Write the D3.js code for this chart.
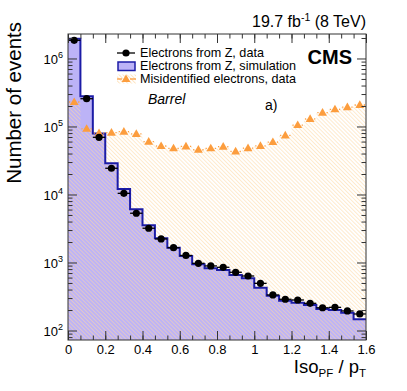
<!DOCTYPE html>
<html>
<head>
<meta charset="utf-8">
<script src="https://cdn.jsdelivr.net/npm/d3@7"></script>
<style>
  body { margin: 0; background: #fff; }
  svg { font-family: "Liberation Sans", Arial, sans-serif; }
</style>
</head>
<body>
<div id="chart"></div>
<script>
// Binning of Iso_PF / pT (24 bins from 0 to 1.6)
const nBins = 24, xMax = 1.6;
const binWidth = xMax / nBins;

// Electrons from Z, data (black points)
const zData = [1.85e6, 2.56e5, 6.93e4, 2.43e4, 1.04e4, 5300, 3190, 2220, 1650, 1270, 973, 890,
               850, 718, 633, 494, 333, 288, 281, 251, 216, 219, 194, 175];
// Electrons from Z, simulation (filled histogram)
const zSim = [1.95e6, 2.78e5, 7.9e4, 2.88e4, 1.2e4, 6050, 3520, 2270, 1650, 1250, 940, 822,
              777, 655, 586, 427, 325, 274, 256, 237, 207, 200, 183, 146];
// Misidentified electrons, data (orange triangles)
const fakeData = [2.29e5, 9.25e4, 8.0e4, 8.1e4, 8.4e4, 7.76e4, 5.97e4, 5.16e4, 4.78e4, 5.1e4, 4.55e4, 4.78e4,
                  5.05e4, 4.3e4, 4.8e4, 5.18e4, 5.9e4, 7.4e4, 1.05e5, 1.29e5, 1.6e5, 1.79e5, 1.92e5, 2.07e5];

const xTicks = [0, 0.2, 0.4, 0.6, 0.8, 1, 1.2, 1.4, 1.6];
const yTicks = [1e2, 1e3, 1e4, 1e5, 1e6];

const W = 407, H = 391;
const frame = { left: 68, right: 366, top: 34, bottom: 340 };

const purple = "#bcb3f7", blue = "#1c1ca6", orange = "#fc9d3e", hatchCol = "#fdd8a4";

const svg = d3.select("#chart").append("svg")
    .attr("width", W)
    .attr("height", H);

const x = d3.scaleLinear().domain([0, xMax]).range([frame.left, frame.right]);
const y = d3.scaleLog().domain([72.5, 2.29e6]).range([frame.bottom, frame.top]);

const bins = d3.range(nBins).map(i => ({
    lo: i * binWidth, hi: (i + 1) * binWidth, c: (i + 0.5) * binWidth,
    data: zData[i], sim: zSim[i], fake: fakeData[i]
}));

// defs: hatch pattern + clip
const defs = svg.append("defs");
const pat = defs.append("pattern")
    .attr("id", "hatch")
    .attr("patternUnits", "userSpaceOnUse")
    .attr("width", 2.8).attr("height", 3)
    .attr("patternTransform", "rotate(-45)");
pat.append("line")
    .attr("x1", 0.5).attr("y1", 0).attr("x2", 0.5).attr("y2", 3)
    .attr("stroke", hatchCol).attr("stroke-width", 0.7);

defs.append("clipPath").attr("id", "clip")
  .append("rect")
    .attr("x", frame.left).attr("y", frame.top)
    .attr("width", frame.right - frame.left)
    .attr("height", frame.bottom - frame.top);

const plot = svg.append("g").attr("clip-path", "url(#clip)");

// step helpers
const stepPts = key => bins.map(b => [b.lo, b[key]]).concat([[xMax, bins[nBins - 1][key]]]);
const area = d3.area().curve(d3.curveStepAfter)
    .x(d => x(d[0])).y0(frame.bottom).y1(d => y(d[1]));
const line = d3.line().curve(d3.curveStepAfter)
    .x(d => x(d[0])).y(d => y(d[1]));

// Simulation fill
plot.append("path")
    .attr("d", area(stepPts("sim")))
    .attr("fill", purple);

// Misidentified hatched area
plot.append("path")
    .attr("d", area(stepPts("fake")))
    .attr("fill", "url(#hatch)")
    .attr("opacity", 0.8);

// Simulation outline
plot.append("path")
    .attr("d", line(stepPts("sim")))
    .attr("fill", "none")
    .attr("stroke", blue)
    .attr("stroke-width", 2);

// Orange error bars and triangles
const fk = plot.append("g");
fk.selectAll("line.l").data(bins).join("line")
    .attr("x1", d => x(d.lo) + 1).attr("x2", d => x(d.c) - 4)
    .attr("y1", d => y(d.fake)).attr("y2", d => y(d.fake))
    .attr("stroke", orange).attr("stroke-width", 1.3);
fk.selectAll("line.r").data(bins).join("line")
    .attr("x1", d => x(d.c) + 4).attr("x2", d => x(d.hi) - 1)
    .attr("y1", d => y(d.fake)).attr("y2", d => y(d.fake))
    .attr("stroke", orange).attr("stroke-width", 1.3);
fk.selectAll("path").data(bins).join("path")
    .attr("transform", d => `translate(${x(d.c)},${y(d.fake) + 0.5})`)
    .attr("d", d3.symbol(d3.symbolTriangle, 34))
    .attr("fill", orange);

// Black data points
const dt = plot.append("g");
dt.selectAll("line").data(bins).join("line")
    .attr("x1", d => x(d.lo)).attr("x2", d => x(d.hi))
    .attr("y1", d => y(d.data)).attr("y2", d => y(d.data))
    .attr("stroke", "#000").attr("stroke-width", 1.3);
dt.selectAll("circle").data(bins).join("circle")
    .attr("cx", d => x(d.c)).attr("cy", d => y(d.data))
    .attr("r", 3.6).attr("fill", "#000");

// ****************** Axes ***************************
const axCol = "#333";
function styleAxis(g) {
    g.select(".domain").remove();
    g.selectAll(".tick line").attr("stroke", axCol).attr("stroke-width", 1);
}
const xMinor = d3.range(0, 25).map(i => i * 0.2 / 3).filter(v => v <= xMax + 1e-9);
const yMinor = y.ticks().filter(v => !yTicks.includes(v));

// bottom
svg.append("g").attr("transform", `translate(0,${frame.bottom})`)
    .call(d3.axisBottom(x).tickValues(xMinor).tickSize(-4.5).tickFormat(""))
    .call(styleAxis);
const xb = svg.append("g").attr("transform", `translate(0,${frame.bottom})`)
    .call(d3.axisBottom(x).tickValues(xTicks).tickSize(-9).tickPadding(4).tickFormat(d3.format("")))
    .call(styleAxis);
xb.selectAll(".tick text")
    .attr("y", 13.5).attr("dy", 0)
    .attr("font-size", 13).attr("fill", "#000")
    .attr("font-family", "Liberation Sans, Arial, sans-serif");
// top
svg.append("g").attr("transform", `translate(0,${frame.top})`)
    .call(d3.axisTop(x).tickValues(xMinor).tickSize(-4.5).tickFormat(""))
    .call(styleAxis);
svg.append("g").attr("transform", `translate(0,${frame.top})`)
    .call(d3.axisTop(x).tickValues(xTicks).tickSize(-9).tickFormat(""))
    .call(styleAxis);
// left
svg.append("g").attr("transform", `translate(${frame.left},0)`)
    .call(d3.axisLeft(y).tickValues(yMinor).tickSize(-4.5).tickFormat(""))
    .call(styleAxis);
const yl = svg.append("g").attr("transform", `translate(${frame.left},0)`)
    .call(d3.axisLeft(y).tickValues(yTicks).tickSize(-9).tickFormat(""))
    .call(styleAxis);
// right
svg.append("g").attr("transform", `translate(${frame.right},0)`)
    .call(d3.axisRight(y).tickValues(yMinor).tickSize(-4.5).tickFormat(""))
    .call(styleAxis);
svg.append("g").attr("transform", `translate(${frame.right},0)`)
    .call(d3.axisRight(y).tickValues(yTicks).tickSize(-9).tickFormat(""))
    .call(styleAxis);

// y tick labels as 10^n
yl.selectAll(".tick").each(function (d) {
    const t = d3.select(this).append("text")
        .attr("x", -5).attr("y", 5)
        .attr("text-anchor", "end")
        .attr("fill", "#000")
        .attr("font-size", 13)
        .attr("font-family", "Liberation Sans, Arial, sans-serif");
    t.append("tspan").text("10");
    t.append("tspan").attr("dy", -6).attr("font-size", 9).text(Math.round(Math.log10(d)));
});

// frame
svg.append("rect")
    .attr("x", frame.left).attr("y", frame.top)
    .attr("width", frame.right - frame.left)
    .attr("height", frame.bottom - frame.top)
    .attr("fill", "none").attr("stroke", axCol).attr("stroke-width", 1);

// ****************** Titles ***************************
svg.append("text")
    .attr("transform", "translate(21,22) rotate(-90)")
    .attr("text-anchor", "end")
    .attr("font-size", 20.5)
    .text("Number of events");

const xt = svg.append("text")
    .attr("x", frame.right).attr("y", 373)
    .attr("text-anchor", "end")
    .attr("font-size", 18.5);
xt.append("tspan").text("Iso");
xt.append("tspan").attr("dy", 4).attr("font-size", 11.5).text("PF");
xt.append("tspan").attr("dy", -4).text(" / p");
xt.append("tspan").attr("dy", 4).attr("font-size", 11.5).text("T");

const lumi = svg.append("text")
    .attr("x", frame.right).attr("y", 27)
    .attr("text-anchor", "end")
    .attr("font-size", 16);
lumi.append("tspan").text("19.7 fb");
lumi.append("tspan").attr("dy", -6).attr("font-size", 10.5).text("-1");
lumi.append("tspan").attr("dy", 6).text(" (8 TeV)");

svg.append("text")
    .attr("x", 352).attr("y", 63.5)
    .attr("text-anchor", "end")
    .attr("font-size", 20).attr("font-weight", "bold")
    .text("CMS");

svg.append("text")
    .attr("x", 148).attr("y", 104)
    .attr("font-size", 14).attr("font-style", "italic")
    .text("Barrel");

svg.append("text")
    .attr("x", 265).attr("y", 110)
    .attr("font-size", 14)
    .text("a)");

// ****************** Legend ***************************
const leg = svg.append("g");
const legLabels = ["Electrons from Z, data", "Electrons from Z, simulation", "Misidentified electrons, data"];
const rowY = [53, 66, 79];
leg.selectAll("text").data(legLabels).join("text")
    .attr("x", 140).attr("y", (d, i) => rowY[i] + 4.4)
    .attr("font-size", 12.6)
    .text(d => d);

// row 1: data marker
leg.append("line").attr("x1", 117).attr("x2", 135).attr("y1", rowY[0]).attr("y2", rowY[0])
    .attr("stroke", "#000").attr("stroke-width", 1.3);
leg.append("circle").attr("cx", 126).attr("cy", rowY[0]).attr("r", 3.6).attr("fill", "#000");
// row 2: simulation box
leg.append("rect").attr("x", 118).attr("y", rowY[1] - 4).attr("width", 17).attr("height", 8.5)
    .attr("fill", purple).attr("stroke", blue).attr("stroke-width", 1.5);
// row 3: misidentified
leg.append("rect").attr("x", 117).attr("y", rowY[2] - 4.5).attr("width", 19).attr("height", 9)
    .attr("fill", "url(#hatch)");
leg.append("line").attr("x1", 117).attr("x2", 122).attr("y1", rowY[2]).attr("y2", rowY[2])
    .attr("stroke", orange).attr("stroke-width", 1.3);
leg.append("line").attr("x1", 130).attr("x2", 136).attr("y1", rowY[2]).attr("y2", rowY[2])
    .attr("stroke", orange).attr("stroke-width", 1.3);
leg.append("path").attr("transform", `translate(126,${rowY[2] + 0.5})`)
    .attr("d", d3.symbol(d3.symbolTriangle, 34)).attr("fill", orange);
</script>
</body>
</html>
